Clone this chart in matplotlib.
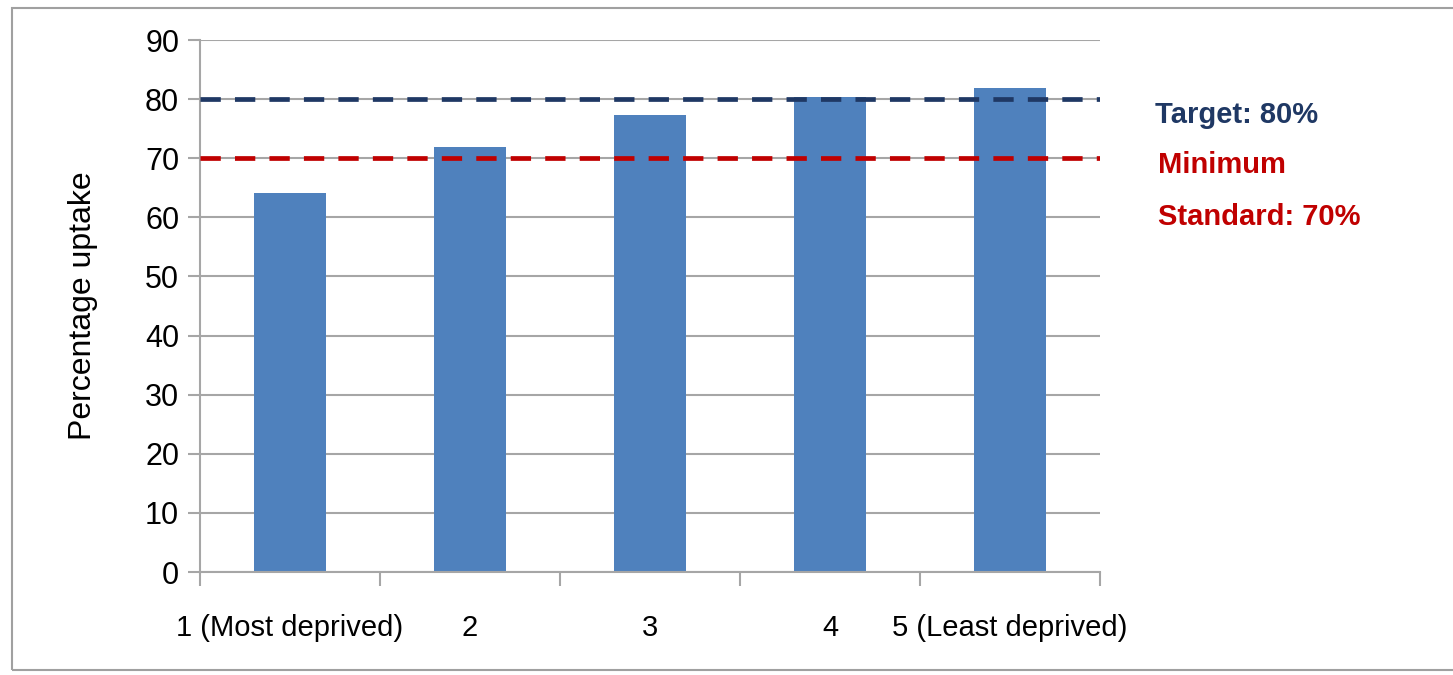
import matplotlib.pyplot as plt
from matplotlib.patches import Rectangle

plt.rcParams['font.family'] = ['Liberation Sans Narrow', 'Liberation Sans', 'DejaVu Sans']

# uptake by deprivation quintile
quintiles = ['1 (Most deprived)', '2', '3', '4', '5 (Least deprived)']
uptake = [64.2, 71.9, 77.3, 80.3, 81.9]

target = 80
minimum = 70

bar_col = '#4F81BD'
target_col = '#1F3864'
min_col = '#C00000'
grid_col = '#A6A6A6'

fig = plt.figure(figsize=(14.53, 6.75), dpi=100)
ax = fig.add_axes([200 / 1453, 1 - 572 / 675, 900 / 1453, 532 / 675])

# outer frame around the whole figure
fig.patches.append(Rectangle((12 / 1453, 5 / 675), 1.1, 1 - 13 / 675,
                             transform=fig.transFigure, fill=False,
                             edgecolor='#A0A0A0', linewidth=1.5))

pos = range(len(quintiles))
ax.bar(pos, uptake, width=0.4, color=bar_col, zorder=2)

ax.axhline(target, color=target_col, lw=3.4, dashes=(4.3, 3.0), zorder=3)
ax.axhline(minimum, color=min_col, lw=3.4, dashes=(4.3, 3.0), zorder=3)

ax.set_xlim(-0.5, 4.5)
ax.set_ylim(0, 90)
ax.set_yticks(range(0, 91, 10))
ax.yaxis.grid(True, color=grid_col, lw=1.5, zorder=0)
ax.set_axisbelow(True)

ax.set_xticks(list(pos))
ax.set_xticklabels(quintiles)
ax.set_xticks([i - 0.5 for i in range(6)], minor=True)
ax.tick_params(axis='x', which='major', length=0, pad=30, labelsize=21)
ax.tick_params(axis='x', which='minor', length=10, width=1.5, color=grid_col)
ax.tick_params(axis='y', length=9, width=1.5, color=grid_col, labelsize=22, pad=6)

for side in ['top', 'right']:
    ax.spines[side].set_visible(False)
for side in ['left', 'bottom']:
    ax.spines[side].set_color(grid_col)
    ax.spines[side].set_linewidth(1.5)

ax.set_ylabel('Percentage uptake', fontsize=23, labelpad=34)

fig.text(1155 / 1453, 1 - 115 / 675, 'Target: 80%', color=target_col,
         fontsize=21, fontweight='bold', va='center')
fig.text(1158 / 1453, 1 - 165 / 675, 'Minimum', color=min_col,
         fontsize=21, fontweight='bold', va='center')
fig.text(1158 / 1453, 1 - 217 / 675, 'Standard: 70%', color=min_col,
         fontsize=21, fontweight='bold', va='center')

fig.savefig('out.png', dpi=100)
